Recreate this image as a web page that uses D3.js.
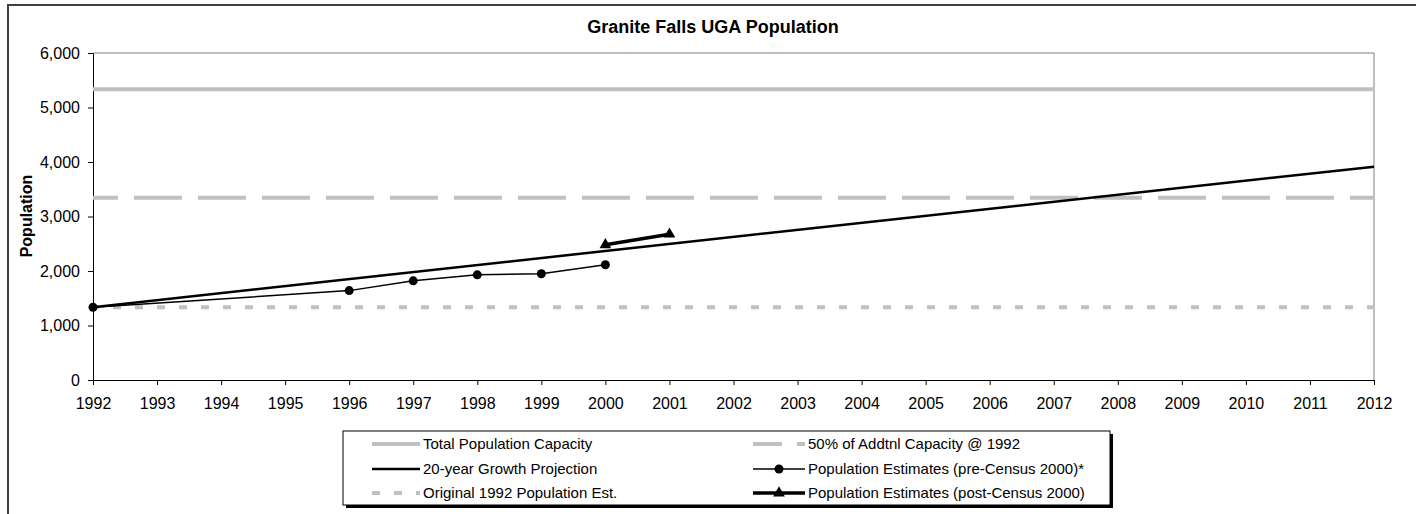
<!DOCTYPE html>
<meta charset="utf-8">
<style>
body { margin: 0; background: #fff; }
svg { font-family: Arial, "Liberation Sans", sans-serif; }
.axis path, .axis line { stroke: #000; }
.axis text { font-size: 16px; fill: #000; }
</style>
<svg width="1416" height="514"></svg>
<script src="https://d3js.org/d3.v7.min.js"></script>
<script>

// tick labels
var yearTicks = [1992, 1993, 1994, 1995, 1996, 1997, 1998, 1999, 2000, 2001, 2002,
                 2003, 2004, 2005, 2006, 2007, 2008, 2009, 2010, 2011, 2012];
var popTicks = [0, 1000, 2000, 3000, 4000, 5000, 6000];

// series
var capacityYears = [1992, 2012], capacityValues = [5335, 5335];
var halfYears = [1992, 2012], halfValues = [3345, 3345];
var origYears = [1992, 2012], origValues = [1335, 1335];
var projYears = [1992, 2012], projValues = [1335, 3915];
var preYears = [1992, 1996, 1997, 1998, 1999, 2000];
var preValues = [1335, 1640, 1820, 1930, 1950, 2115];
var postYears = [2000, 2001], postValues = [2480, 2675];

var svg = d3.select("svg"),
    margin = {top: 53, right: 42, bottom: 134, left: 93},
    width = 1416 - margin.left - margin.right,
    height = 514 - margin.top - margin.bottom;

// chart area border (cropped at right/bottom)
svg.append("rect")
    .attr("x", 8).attr("y", 5)
    .attr("width", 1440).attr("height", 540)
    .attr("fill", "#fff")
    .attr("stroke", "#404040")
    .attr("stroke-width", 2);

svg.append("text")
    .attr("x", 713).attr("y", 33)
    .attr("text-anchor", "middle")
    .style("font-size", "18px")
    .style("font-weight", "bold")
    .text("Granite Falls UGA Population");

svg.append("text")
    .attr("transform", "translate(32,216) rotate(-90)")
    .attr("text-anchor", "middle")
    .style("font-size", "16px")
    .style("font-weight", "bold")
    .text("Population");

var x = d3.scaleLinear().domain([1992, 2012]).range([0, width]),
    y = d3.scaleLinear().domain([0, 6000]).range([height, 0]);

var g = svg.append("g")
    .attr("transform", "translate(" + margin.left + "," + margin.top + ")");

// plot area frame (top + right in gray)
g.append("path")
    .attr("d", "M0,0H" + width + "V" + height)
    .attr("fill", "none")
    .attr("stroke", "#808080")
    .attr("stroke-width", 1);

g.append("g")
    .attr("class", "axis axis--x")
    .attr("transform", "translate(0," + height + ")")
    .call(d3.axisBottom(x).tickValues(yearTicks).tickFormat(d3.format("d"))
        .tickSize(5).tickSizeOuter(0).tickPadding(13));

g.append("g")
    .attr("class", "axis axis--y")
    .call(d3.axisLeft(y).tickValues(popTicks).tickFormat(d3.format(","))
        .tickSize(5).tickSizeOuter(0).tickPadding(8));

var line = d3.line()
    .x(function(d) { return x(d[0]); })
    .y(function(d) { return y(d[1]); });

function pairs(xs, vs) { return xs.map(function(d, i) { return [d, vs[i]]; }); }

var styles = {
  capacity: {stroke: "#c0c0c0", width: 4, dash: null, offset: 0},
  half: {stroke: "#c0c0c0", width: 4, dash: "48,16", offset: 23},
  orig: {stroke: "#c0c0c0", width: 4, dash: "8,14", offset: 2},
  proj: {stroke: "#000", width: 2.5, dash: null, offset: 0},
  pre: {stroke: "#000", width: 1.5, dash: null, offset: 0, marker: "circle"},
  post: {stroke: "#000", width: 3.5, dash: null, offset: 0, marker: "triangle"}
};

var series = [
  {key: "capacity", data: pairs(capacityYears, capacityValues)},
  {key: "half", data: pairs(halfYears, halfValues)},
  {key: "orig", data: pairs(origYears, origValues)},
  {key: "proj", data: pairs(projYears, projValues)},
  {key: "pre", data: pairs(preYears, preValues)},
  {key: "post", data: pairs(postYears, postValues)}
];

function styleLine(sel, s) {
  sel.attr("fill", "none")
     .attr("stroke", s.stroke)
     .attr("stroke-width", s.width)
     .attr("stroke-dasharray", s.dash)
     .attr("stroke-dashoffset", s.offset);
}

function drawMarker(sel, kind, cx, cy) {
  if (kind === "circle") {
    sel.append("circle").attr("cx", cx).attr("cy", cy).attr("r", 4.5).attr("fill", "#000");
  } else if (kind === "triangle") {
    sel.append("path")
      .attr("transform", "translate(" + cx + "," + cy + ")")
      .attr("d", d3.symbol().type(d3.symbolTriangle).size(60))
      .attr("fill", "#000");
  }
}

series.forEach(function(sr) {
  var s = styles[sr.key];
  g.append("path").datum(sr.data).attr("d", line).call(styleLine, s);
  if (s.marker) {
    sr.data.forEach(function(d) { drawMarker(g, s.marker, x(d[0]), y(d[1])); });
  }
});

// legend
var legendItems = [
  {key: "capacity", label: "Total Population Capacity"},
  {key: "half", label: "50% of Addtnl Capacity @ 1992"},
  {key: "proj", label: "20-year Growth Projection"},
  {key: "pre", label: "Population Estimates (pre-Census 2000)*"},
  {key: "orig", label: "Original 1992 Population Est."},
  {key: "post", label: "Population Estimates (post-Census 2000)"}
];

var lg = svg.append("g").attr("transform", "translate(343,431)");
lg.append("rect").attr("x", 3).attr("y", 3).attr("width", 767).attr("height", 74).attr("fill", "#000");
lg.append("rect").attr("width", 767).attr("height", 74).attr("fill", "#fff")
    .attr("stroke", "#000").attr("stroke-width", 1);

var colX = [29, 410], sampleW = [48, 52], rowY = [13, 38, 62];

legendItems.forEach(function(it, i) {
  var col = i % 2, row = Math.floor(i / 2);
  var s = styles[it.key];
  var item = lg.append("g").attr("transform", "translate(" + colX[col] + "," + rowY[row] + ")");
  var ls = Object.assign({}, s, {offset: 0});
  if (it.key === "half") ls.dash = "29,15";
  item.append("line").attr("x1", 0).attr("x2", sampleW[col]).attr("y1", 0).attr("y2", 0).call(styleLine, ls);
  if (s.marker) drawMarker(item, s.marker, sampleW[col] / 2, 0);
  item.append("text")
    .attr("x", sampleW[col] + 3)
    .attr("dy", "0.35em")
    .style("font-size", "15px")
    .text(it.label);
});

</script>
